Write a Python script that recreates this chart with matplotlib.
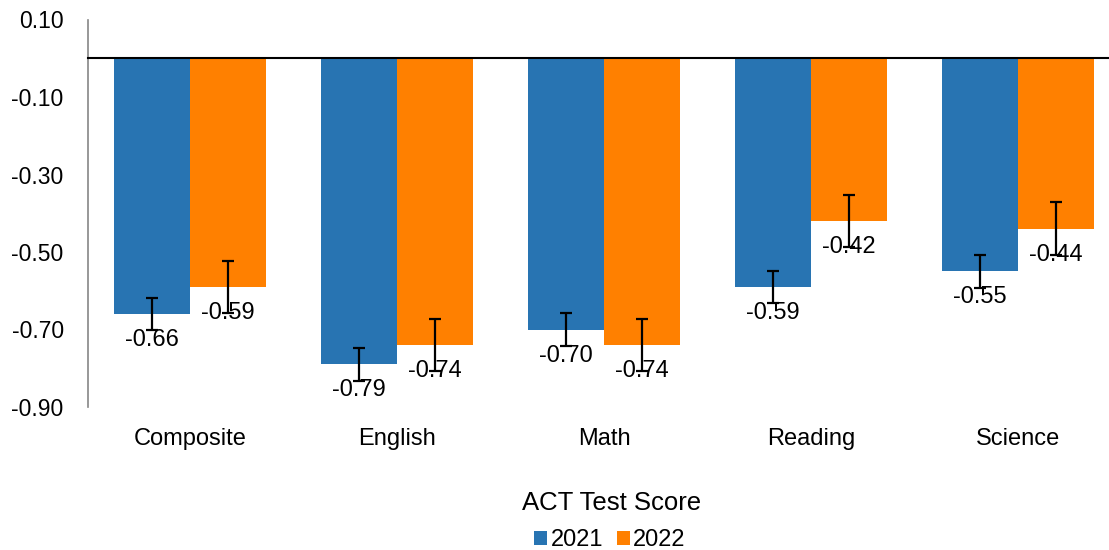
import matplotlib
matplotlib.use("Agg")
import matplotlib.pyplot as plt
import numpy as np

categories = ["Composite", "English", "Math", "Reading", "Science"]
series_names = ["2021", "2022"]
values_2021 = [-0.66, -0.79, -0.70, -0.59, -0.55]
values_2022 = [-0.59, -0.74, -0.74, -0.42, -0.44]
err_2021 = [0.042, 0.042, 0.042, 0.042, 0.042]
err_2022 = [0.068, 0.068, 0.068, 0.068, 0.068]
yticks = [0.10, -0.10, -0.30, -0.50, -0.70, -0.90]
xlabel = "ACT Test Score"

plt.rcParams['font.family'] = ['Liberation Sans', 'DejaVu Sans']

W, H = 1109, 550
fig = plt.figure(figsize=(W / 100, H / 100), dpi=100)
left_px, right_px = 88, 1109
top_px, bottom_px = 19.5, 407
ax = fig.add_axes([left_px / W, 1 - bottom_px / H, (right_px - left_px) / W, (bottom_px - top_px) / H])

cat_px = 207.0
first_center_px = 190.0
x0 = -(first_center_px - left_px) / cat_px
x1 = x0 + (right_px - left_px) / cat_px
ax.set_xlim(x0, x1)
ax.set_ylim(-0.90, 0.10)

blue = "#2874B2"
orange = "#FF8000"
bw = 76 / cat_px
x = np.arange(len(categories))

b1 = ax.bar(x - bw / 2, values_2021, width=bw, color=blue, label=series_names[0], zorder=2)
b2 = ax.bar(x + bw / 2, values_2022, width=bw, color=orange, label=series_names[1], zorder=2)

ax.errorbar(x - bw / 2, values_2021, yerr=err_2021, fmt='none', ecolor='black',
            elinewidth=1.6, capsize=4.5, capthick=1.6, zorder=4)
ax.errorbar(x + bw / 2, values_2022, yerr=err_2022, fmt='none', ecolor='black',
            elinewidth=1.6, capsize=4.5, capthick=1.6, zorder=4)

for xs, vals in ((x - bw / 2, values_2021), (x + bw / 2, values_2022)):
    for xi, v in zip(xs, vals):
        ax.annotate(f"{v:.2f}", (xi, v), xytext=(0, -18.8), textcoords='offset points',
                    ha='center', va='center', fontsize=17, color='black', zorder=3)

ax.axhline(0, color='black', linewidth=1.5, zorder=3, clip_on=False)

ax.set_yticks(yticks)
ax.set_yticklabels([f"{t:.2f}" for t in yticks])
ax.set_xticks(x)
ax.set_xticklabels(categories)
ax.tick_params(axis='y', length=0, pad=17.5, labelsize=16.5)
ax.tick_params(axis='x', length=0, pad=15, labelsize=17)

for s in ['top', 'right', 'bottom']:
    ax.spines[s].set_visible(False)
ax.spines['left'].set_color('#868686')
ax.spines['left'].set_linewidth(1.2)

fig.text(612 / W, 1 - 503 / H, xlabel, ha='center', va='center', fontsize=18.5)

fig.legend(handles=[b1, b2], labels=series_names, loc='center', bbox_to_anchor=(610 / W, 1 - 540 / H),
           ncol=2, frameon=False, fontsize=17, handlelength=0.53, handleheight=0.53,
           handletextpad=0.15, columnspacing=0.6, borderpad=0, borderaxespad=0)

fig.savefig("out.png", dpi=100)
